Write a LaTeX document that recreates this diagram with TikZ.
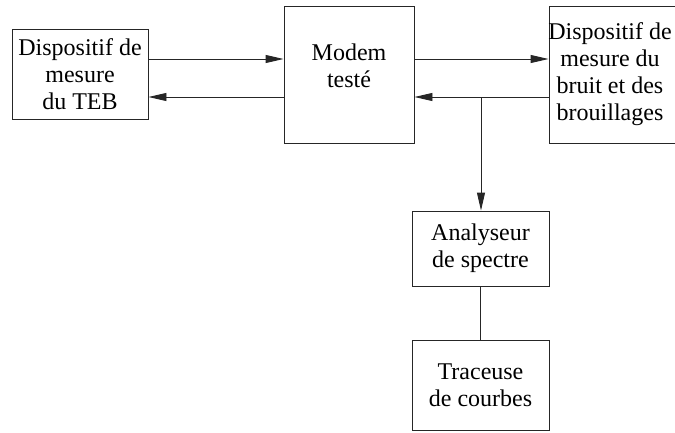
\documentclass[tikz,border=0pt]{standalone}
\usepackage{fontspec}
\newfontfamily\tnr{Liberation Serif}
\usetikzlibrary{arrows.meta}
\begin{document}
\begin{tikzpicture}[x=1pt,y=-1pt,
  box/.style={draw=black!85, line width=0.9pt, rectangle, inner sep=0pt, align=center,
    font=\tnr\fontsize{24}{27}\selectfont},
  txt/.style={inner sep=0pt, align=center, font=\tnr\fontsize{24}{27}\selectfont},
  arr/.style={draw=black!85, line width=0.9pt, -{Triangle[length=18pt,width=8pt]}},
  ln/.style={draw=black!85, line width=0.9pt}]
\useasboundingbox (0,0) rectangle (675,432);
\node[box, minimum width=136pt, minimum height=90pt] (teb) at (80,74) {Dispositif de\\mesure\\du TEB};
\node[box, minimum width=130pt, minimum height=137pt] (modem) at (349,74.5) {};
\node[txt] (modemtxt) at (349,66) {Modem\\testé};
\node[box, minimum width=127pt, minimum height=137pt] (bruit) at (612.5,74.5) {};
\node[txt] (bruittxt) at (610,74) {\fontsize{24}{24.5}\selectfont Dispositif de\\mesure du\\bruit et des\\brouillages};
\node[box, minimum width=137pt, minimum height=75pt] (ana) at (480.5,248.5) {Analyseur\\de spectre};
\node[box, minimum width=137pt, minimum height=90pt] (trac) at (480.5,385) {Traceuse\\de courbes};
\draw[arr] (teb.east |- 0,59) -- (modem.west |- 0,59);
\draw[arr] (modem.west |- 0,97) -- (teb.east |- 0,97);
\draw[arr] (modem.east |- 0,59) -- (bruit.west |- 0,59);
\draw[arr] (bruit.west |- 0,97) -- (modem.east |- 0,97);
\coordinate (j) at (481,97);
\draw[arr] (j) -- (ana.north -| j);
\draw[ln] (ana.south) -- (trac.north);
\end{tikzpicture}
\end{document}
